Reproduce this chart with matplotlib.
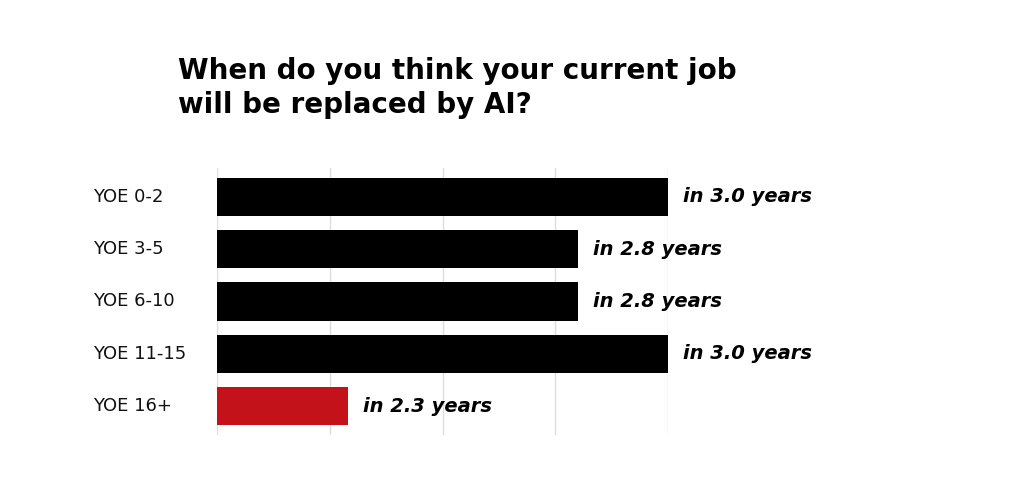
import matplotlib.pyplot as plt

categories = ["YOE 0-2", "YOE 3-5", "YOE 6-10", "YOE 11-15", "YOE 16+"]
values = [3.0, 2.8, 2.8, 3.0, 2.29]
labels = ["in 3.0 years", "in 2.8 years", "in 2.8 years", "in 3.0 years", "in 2.3 years"]
colors = ["#000000"] * 4 + ["#c3121a"]

fig = plt.figure(figsize=(10.24, 4.79), dpi=100)
ax = fig.add_axes([217/1024, 1-435/479, (668-217)/1024, (435-168)/479])
y = list(range(len(categories)))
base = 2.0
ax.barh(y, [v - base for v in values], left=base, height=0.73, color=colors, zorder=3)
ax.set_xlim(2.0, 3.0)
ax.set_ylim(4.55, -0.55)
ax.set_xticks([2.0, 2.25, 2.5, 2.75, 3.0])
ax.grid(axis="x", color="#dddddd", lw=1, zorder=0)
ax.tick_params(length=0, labelbottom=False)
ax.set_yticks(y)
ax.set_yticklabels([])
for s in ax.spines.values():
    s.set_visible(False)
for i, (c, v, l) in enumerate(zip(categories, values, labels)):
    ax.text(-0.275, i, c, transform=ax.get_yaxis_transform(), ha="left", va="center",
            fontsize=13, color="#111111")
    ax.text(v + 0.033, i, l, ha="left", va="center", fontsize=14,
            fontweight="bold", fontstyle="italic", clip_on=False)
fig.text(178/1024, 1-88/479, "When do you think your current job\nwill be replaced by AI?",
         ha="left", va="center", fontsize=20, fontweight="bold", linespacing=1.3)
fig.savefig("out.png", dpi=100, facecolor="white")
